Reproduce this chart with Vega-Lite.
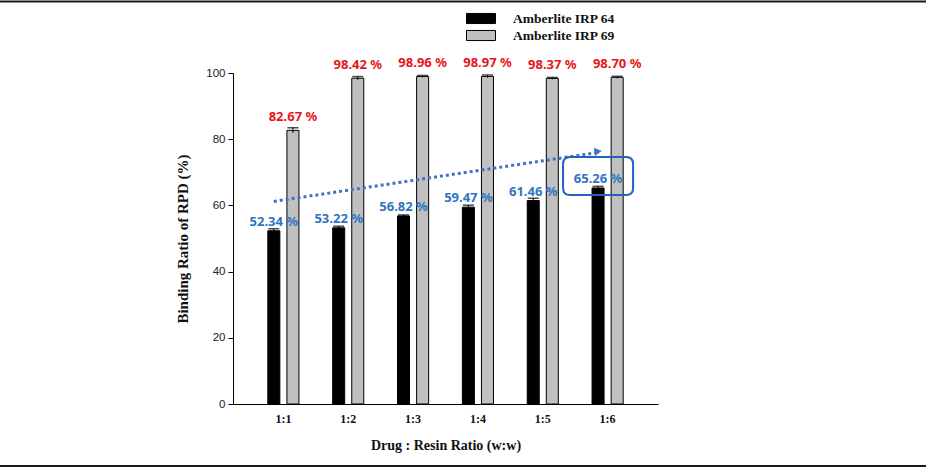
{
  "$schema": "https://vega.github.io/schema/vega-lite/v6.json",
  "autosize": {"type": "none"},
  "padding": {"left": 233, "top": 73, "right": 268, "bottom": 71},
  "width": 425,
  "height": 331,
  "background": "white",
  "config": {"view": {"stroke": null}},
  "datasets": {
    "bars": [
      {"ratio": "1:1", "resin": "Amberlite IRP 64", "value": 52.34, "err": 0.6, "label": "52.34 %"},
      {"ratio": "1:2", "resin": "Amberlite IRP 64", "value": 53.22, "err": 0.5, "label": "53.22 %"},
      {"ratio": "1:3", "resin": "Amberlite IRP 64", "value": 56.82, "err": 0.3, "label": "56.82 %"},
      {"ratio": "1:4", "resin": "Amberlite IRP 64", "value": 59.47, "err": 0.6, "label": "59.47 %"},
      {"ratio": "1:5", "resin": "Amberlite IRP 64", "value": 61.46, "err": 0.7, "label": "61.46 %"},
      {"ratio": "1:6", "resin": "Amberlite IRP 64", "value": 65.26, "err": 0.5, "label": "65.26 %"},
      {"ratio": "1:1", "resin": "Amberlite IRP 69", "value": 82.67, "err": 0.8, "label": "82.67 %"},
      {"ratio": "1:2", "resin": "Amberlite IRP 69", "value": 98.42, "err": 0.5, "label": "98.42 %"},
      {"ratio": "1:3", "resin": "Amberlite IRP 69", "value": 98.96, "err": 0.3, "label": "98.96 %"},
      {"ratio": "1:4", "resin": "Amberlite IRP 69", "value": 98.97, "err": 0.4, "label": "98.97 %"},
      {"ratio": "1:5", "resin": "Amberlite IRP 69", "value": 98.37, "err": 0.3, "label": "98.37 %"},
      {"ratio": "1:6", "resin": "Amberlite IRP 69", "value": 98.70, "err": 0.3, "label": "98.70 %"}
    ],
    "trend": [
      {"ratio": "1:1", "resin": "Amberlite IRP 64", "v": 61.2},
      {"ratio": "1:6", "resin": "Amberlite IRP 64", "v": 76.0}
    ],
    "arrow": [
      {"ratio": "1:6", "resin": "Amberlite IRP 64", "v": 76.3}
    ],
    "box": [
      {"ratio": "1:6", "resin": "Amberlite IRP 64", "v": 68.9}
    ],
    "frame": [
      {"a": 0, "b": 1, "y": 121.6},
      {"a": 0, "b": 1, "y": -18.7}
    ]
  },
  "layer": [
    {
      "encoding": {
        "x": {
          "field": "ratio", "type": "nominal",
          "scale": {"domain": ["1:1", "1:2", "1:3", "1:4", "1:5", "1:6"], "paddingInner": 0.52, "paddingOuter": 0.537},
          "axis": {
            "title": "Drug : Resin Ratio (w:w)",
            "labelAngle": 0,
            "ticks": false,
            "domainColor": "#000000",
            "domainWidth": 1,
            "labelFont": "Liberation Serif",
            "labelFontWeight": "bold",
            "labelFontSize": 12,
            "labelColor": "#111111",
            "labelPadding": 9,
            "titleFont": "Liberation Serif",
            "titleFontWeight": "bold",
            "titleFontSize": 14,
            "titleColor": "#111111",
            "titlePadding": 14
          }
        },
        "xOffset": {
          "field": "resin", "type": "nominal",
          "scale": {"domain": ["Amberlite IRP 64", "Amberlite IRP 69"], "paddingInner": 0.37, "paddingOuter": 0}
        },
        "y": {
          "type": "quantitative",
          "scale": {"domain": [0, 100]},
          "axis": {
            "title": "Binding Ratio of RPD (%)",
            "values": [0, 20, 40, 60, 80, 100],
            "grid": false,
            "tickSize": 5,
            "tickColor": "#000000",
            "domainColor": "#000000",
            "labelFont": "Liberation Sans",
            "labelFontSize": 11.5,
            "labelColor": "#222222",
            "labelPadding": 3,
            "titleFont": "Liberation Serif",
            "titleFontWeight": "bold",
            "titleFontSize": 15,
            "titleColor": "#111111",
            "titlePadding": 15
          }
        }
      },
      "layer": [
        {
          "data": {"name": "bars"},
          "mark": {"type": "bar", "stroke": "#000000", "strokeWidth": 1},
          "encoding": {
            "y": {"field": "value", "type": "quantitative"},
            "color": {
              "field": "resin", "type": "nominal",
              "scale": {"domain": ["Amberlite IRP 64", "Amberlite IRP 69"], "range": ["#000000", "#C0C0C0"]},
              "legend": {
                "orient": "none",
                "legendX": 238.5,
                "legendY": -64,
                "title": null,
                "padding": 0,
                "rowPadding": 0,
                "symbolType": "M-1.61,-0.56L1.61,-0.56L1.61,0.56L-1.61,0.56Z",
                "symbolSize": 324,
                "symbolStrokeColor": "#000000",
                "symbolStrokeWidth": 1,
                "symbolOpacity": 1,
                "labelFont": "Liberation Serif",
                "labelFontWeight": "bold",
                "labelFontSize": 13.5,
                "labelColor": "#111111",
                "labelOffset": 22.5
              }
            }
          }
        },
        {
          "data": {"name": "bars"},
          "transform": [{"calculate": "datum.value - datum.err", "as": "lo"}, {"calculate": "datum.value + datum.err", "as": "hi"}],
          "mark": {"type": "rule", "color": "#000000", "strokeWidth": 1},
          "encoding": {
            "y": {"field": "lo", "type": "quantitative"},
            "y2": {"field": "hi"}
          }
        },
        {
          "data": {"name": "bars"},
          "transform": [{"calculate": "datum.value + datum.err", "as": "hi"}],
          "mark": {"type": "tick", "color": "#000000", "size": 11, "thickness": 1.5, "orient": "horizontal"},
          "encoding": {
            "y": {"field": "hi", "type": "quantitative"}
          }
        },
        {
          "data": {"name": "trend"},
          "mark": {"type": "line", "color": "#4472C4", "strokeWidth": 3, "strokeDash": [3, 3]},
          "encoding": {
            "y": {"field": "v", "type": "quantitative"}
          }
        },
        {
          "data": {"name": "arrow"},
          "mark": {"type": "point", "shape": "triangle-right", "filled": true, "color": "#4472C4", "size": 70, "angle": -8.6, "opacity": 1},
          "encoding": {
            "y": {"field": "v", "type": "quantitative"}
          }
        },
        {
          "data": {"name": "bars"},
          "transform": [{"filter": "datum.resin == 'Amberlite IRP 69'"}],
          "mark": {"type": "text", "font": "Noto Sans", "fontWeight": "bold", "fontSize": 13, "color": "#E8141C", "dy": -9, "baseline": "alphabetic", "align": "center"},
          "encoding": {
            "y": {"field": "value", "type": "quantitative"},
            "text": {"field": "label"}
          }
        },
        {
          "data": {"name": "bars"},
          "transform": [{"filter": "datum.resin == 'Amberlite IRP 64'"}],
          "mark": {"type": "text", "font": "Noto Sans", "fontWeight": "bold", "fontSize": 13, "color": "#2E74C0", "dy": -5, "baseline": "alphabetic", "align": "center"},
          "encoding": {
            "y": {"field": "value", "type": "quantitative"},
            "text": {"field": "label"}
          }
        },
        {
          "data": {"name": "box"},
          "mark": {
            "type": "point",
            "shape": "M-0.8,-0.543L0.8,-0.543Q1,-0.543 1,-0.343L1,0.343Q1,0.543 0.8,0.543L-0.8,0.543Q-1,0.543 -1,0.343L-1,-0.343Q-1,-0.543 -0.8,-0.543Z",
            "filled": false,
            "size": 4900,
            "stroke": "#1F62C4",
            "strokeWidth": 2,
            "opacity": 1
          },
          "encoding": {
            "y": {"field": "v", "type": "quantitative"}
          }
        }
      ]
    },
    {
      "data": {"name": "frame"},
      "mark": {"type": "rule", "color": "#1a1a1a", "strokeWidth": 2},
      "encoding": {
        "x": {"field": "a", "type": "quantitative", "scale": {"domain": [0, 1], "range": [-233, 693]}, "axis": null},
        "x2": {"field": "b"},
        "y": {"field": "y", "type": "quantitative"}
      }
    }
  ],
  "resolve": {"scale": {"x": "independent"}}
}
